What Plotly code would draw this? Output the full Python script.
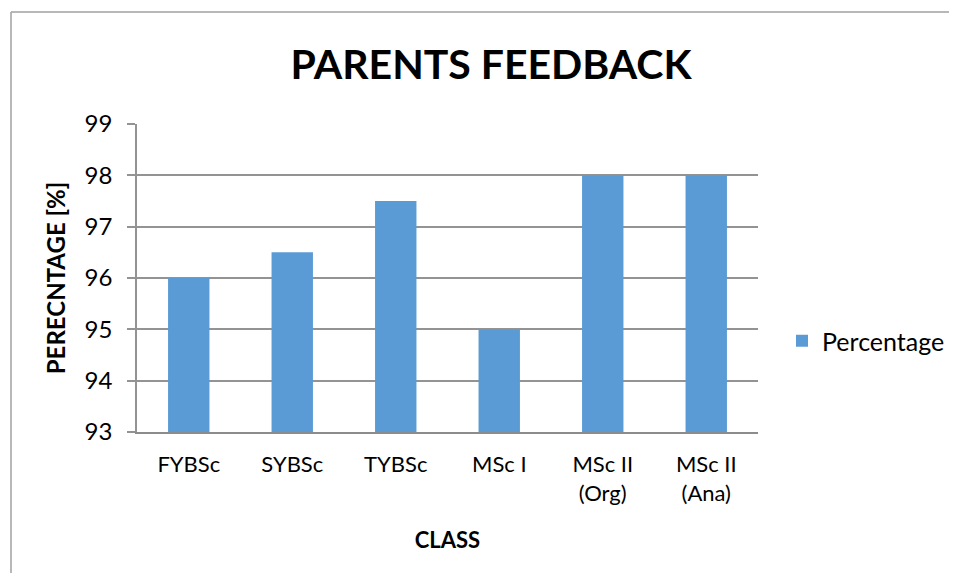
import plotly.graph_objects as go

categories = ["FYBSc", "SYBSc", "TYBSc", "MSc I", "MSc II<br>(Org)", "MSc II<br>(Ana)"]
percentage = [96, 96.5, 97.5, 95, 98, 98]
y_ticks = [93, 94, 95, 96, 97, 98, 99]

FONT = "Lato"
OFF = 8  # page body margin on every side
W, H = 957 - 2 * OFF, 581 - 2 * OFF
L, T, R, B = 137 - OFF, 124 - OFF, 199 - OFF, 149 - OFF
PW, PH = W - L - R, H - T - B

def px(xabs):
    return (xabs - 137) / PW

def py(yabs):
    return 1 + (124 - yabs) / PH

fig = go.Figure()
fig.add_trace(go.Bar(x=categories, y=percentage, name="Percentage",
                     marker=dict(color="#5B9BD5", line=dict(width=0)),
                     width=0.4))

fig.update_layout(
    width=W, height=H,
    margin=dict(l=L, r=R, t=T, b=B, autoexpand=False),
    paper_bgcolor="white", plot_bgcolor="white",
    font=dict(family=FONT, color="black", size=22),
    title=dict(text="<b>PARENTS FEEDBACK</b>", x=(491 - OFF) / W, xanchor="center",
               y=1 - (65 - OFF) / H, yanchor="middle", font=dict(size=41, family=FONT)),
    showlegend=True,
    legend=dict(x=px(782), y=py(341), xanchor="left", yanchor="middle",
                font=dict(size=25), itemwidth=30, bgcolor="rgba(0,0,0,0)"),
    bargap=0.6,
)
fig.update_xaxes(showline=True, linecolor="#8C8C8C", linewidth=1.5,
                 ticks="", tickfont=dict(size=22), ticklabelstandoff=12,
                 title=dict(text="<b>CLASS</b>", font=dict(size=22), standoff=28))
fig.update_yaxes(range=[93, 99], tickvals=y_ticks, showgrid=True,
                 gridcolor="#939393", gridwidth=1.5,
                 showline=True, linecolor="#939393", linewidth=1.5,
                 ticks="outside", ticklen=8, tickcolor="#939393", tickwidth=1.5,
                 tickfont=dict(size=24), zeroline=False, ticklabelstandoff=10,
                 title=dict(text="<b>PERECNTAGE [%]</b>", font=dict(size=24), standoff=12))
# outer chart border (only top and left edges are visible in the frame)
fig.add_shape(type="line", xref="paper", yref="paper",
              x0=px(11), x1=px(OFF + W), y0=py(12), y1=py(12),
              line=dict(color="#A0A0A0", width=1.5), layer="below")
fig.add_shape(type="line", xref="paper", yref="paper",
              x0=px(11), x1=px(11), y0=py(12), y1=py(OFF + H),
              line=dict(color="#A0A0A0", width=1.5), layer="below")
fig.write_html("out.html")
